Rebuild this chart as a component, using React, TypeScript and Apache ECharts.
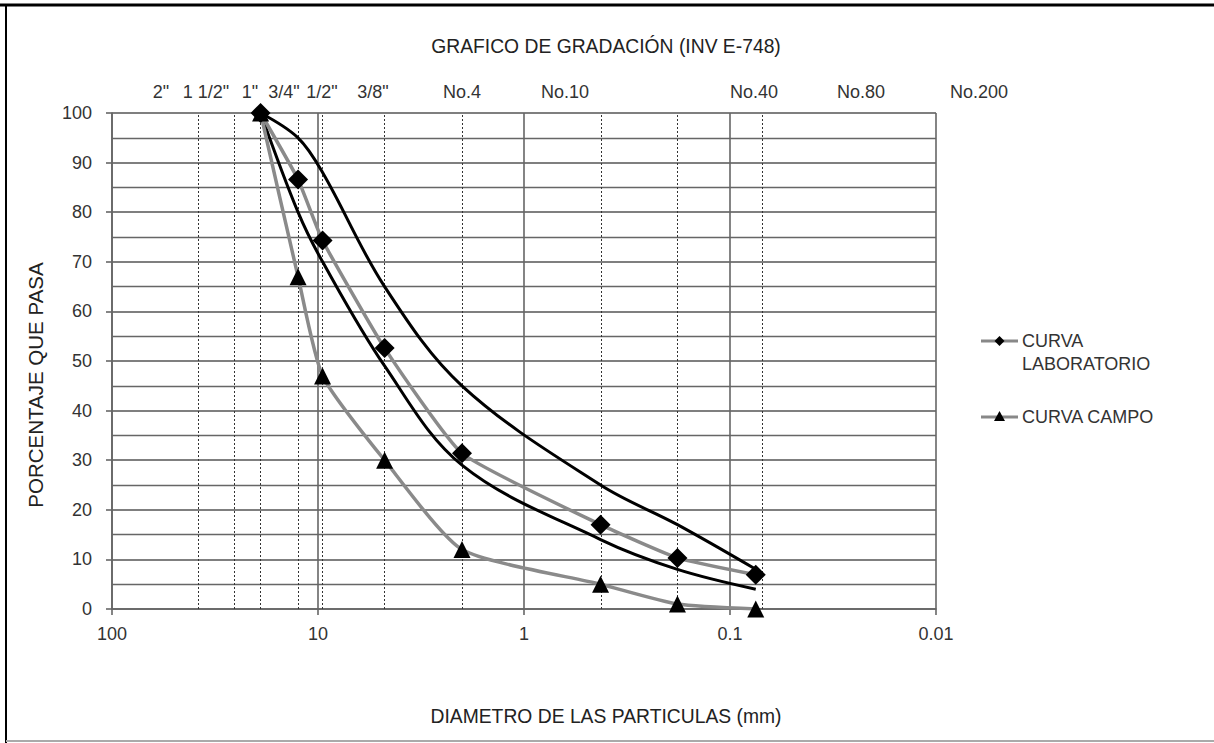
import React, { useEffect, useRef } from "react";
import * as echarts from "echarts";

// ---- data ----
const sieveSizes = [19.0, 12.5, 9.5, 4.75, 2.0, 0.425, 0.18, 0.075];
const labValues = [100, 86.6, 74.3, 52.6, 31.4, 17.0, 10.3, 6.9];
const campoValues = [100, 67, 47, 30, 12, 5, 1, 0];
const upperBand = [100, 95, 88, 65, 45, 25, 17, 8];
const lowerBand = [100, 80, 70, 49, 29, 14, 8, 4];
const dashedSieves = [38.1, 25.4, 19.0, 12.5, 9.5, 4.75, 2.0, 0.425, 0.18, 0.07];
const sieveLabels = ['2"', '1 1/2"', '1"', '3/4"', '1/2"', '3/8"', "No.4", "No.10", "No.40", "No.80", "No.200"];
const seriesNames = ["CURVA LABORATORIO", "CURVA CAMPO"];
const titleText = "GRAFICO DE GRADACIÓN (INV E-748)";
const xTitle = "DIAMETRO DE LAS PARTICULAS (mm)";
const yTitle = "PORCENTAJE QUE PASA";

// layout positions of top sieve labels (pixel centers)
const sieveLabelX = [161, 206, 250, 284, 322, 373, 462, 565, 754, 861, 979];

const FONT = "Liberation Sans";

export default function App() {
  const ref = useRef<HTMLDivElement>(null);
  useEffect(() => {
    if (!ref.current) return;
    const chart = echarts.init(ref.current, null, { renderer: "svg" });
    const pair = (vals: number[]) => sieveSizes.map((s, i) => [s, vals[i]]);
    const textColor = "#333";
    const graphics: any[] = [
      // frame
      { type: "line", shape: { x1: 0, y1: 5, x2: 1214, y2: 5 }, style: { stroke: "#000", lineWidth: 3 } },
      { type: "line", shape: { x1: 6, y1: 5, x2: 6, y2: 743 }, style: { stroke: "#000", lineWidth: 2 } },
      { type: "line", shape: { x1: 6, y1: 741, x2: 1214, y2: 741 }, style: { stroke: "#aaa", lineWidth: 2 } },
      {
        type: "text", x: 606, y: 46, scaleX: 0.92,
        style: { text: titleText, font: `21px "${FONT}"`, fill: "#222", textAlign: "center", textVerticalAlign: "middle" },
      },
      {
        type: "text", x: 606, y: 716, scaleX: 0.92,
        style: { text: xTitle, font: `21px "${FONT}"`, fill: "#222", textAlign: "center", textVerticalAlign: "middle" },
      },
      {
        type: "text", x: 35, y: 385, rotation: Math.PI / 2,
        style: { text: yTitle, font: `20.5px "${FONT}"`, fill: "#222", textAlign: "center", textVerticalAlign: "middle" },
      },
      ...sieveLabels.map((t, i) => ({
        type: "text", x: sieveLabelX[i], y: 92,
        style: { text: t, font: `18px "${FONT}"`, fill: textColor, textAlign: "center", textVerticalAlign: "middle" },
      })),
      // legend
      { type: "line", shape: { x1: 981, y1: 341, x2: 1018, y2: 341 }, style: { stroke: "#888", lineWidth: 3 } },
      { type: "polygon", shape: { points: [[999.5, 336], [1004.5, 341], [999.5, 346], [994.5, 341]] }, style: { fill: "#000" } },
      {
        type: "text", x: 1022, y: 341,
        style: { text: "CURVA", font: `18px "${FONT}"`, fill: textColor, textVerticalAlign: "middle" },
      },
      {
        type: "text", x: 1022, y: 364,
        style: { text: "LABORATORIO", font: `18px "${FONT}"`, fill: textColor, textVerticalAlign: "middle" },
      },
      { type: "line", shape: { x1: 981, y1: 417, x2: 1018, y2: 417 }, style: { stroke: "#888", lineWidth: 3 } },
      { type: "polygon", shape: { points: [[999.5, 411], [1005, 421], [994, 421]] }, style: { fill: "#000" } },
      {
        type: "text", x: 1022, y: 417,
        style: { text: seriesNames[1], font: `18px "${FONT}"`, fill: textColor, textVerticalAlign: "middle" },
      },
    ];

    chart.setOption({
      animation: false,
      backgroundColor: "#fff",
      grid: { left: 112, right: 278, top: 113, bottom: 134 },
      xAxis: {
        type: "log",
        logBase: 10,
        min: 0.01,
        max: 100,
        inverse: true,
        axisLine: { show: true, lineStyle: { color: "#666", width: 1.6 } },
        axisTick: { show: true, length: 6, lineStyle: { color: "#666", width: 1.6 } },
        axisLabel: {
          color: textColor, fontFamily: FONT, fontSize: 18, margin: 16,
          formatter: (v: number) => String(parseFloat(v.toPrecision(3))),
        },
        splitLine: { show: true, lineStyle: { color: "#666", width: 1.6 } },
      },
      yAxis: {
        type: "value",
        min: 0,
        max: 100,
        interval: 10,
        axisLine: { show: true, lineStyle: { color: "#666", width: 1.6 } },
        axisTick: { show: true, length: 6, lineStyle: { color: "#666", width: 1.6 } },
        axisLabel: { color: textColor, fontFamily: FONT, fontSize: 18, margin: 20 },
        splitLine: { show: true, lineStyle: { color: "#555", width: 1.6 } },
        minorTick: { show: false, splitNumber: 2 },
        minorSplitLine: { show: true, lineStyle: { color: "#666", width: 1.4 } },
      },
      graphic: graphics,
      series: [
        {
          name: "upper",
          type: "line",
          data: pair(upperBand),
          smooth: 0.35,
          symbol: "none",
          lineStyle: { color: "#000", width: 3 },
          z: 3,
          markLine: {
            silent: true,
            symbol: "none",
            label: { show: false },
            lineStyle: { type: [2, 2], color: "#333", width: 1 },
            data: dashedSieves.map((v) => ({ xAxis: v })),
            z: 1,
          },
        },
        {
          name: "lower",
          type: "line",
          data: pair(lowerBand),
          smooth: 0.35,
          symbol: "none",
          lineStyle: { color: "#000", width: 3 },
          z: 3,
        },
        {
          name: seriesNames[0],
          type: "line",
          data: pair(labValues),
          smooth: 0.15,
          symbol: "diamond",
          symbolSize: 20,
          itemStyle: { color: "#000" },
          lineStyle: { color: "#8a8a8a", width: 3.5 },
          z: 4,
        },
        {
          name: seriesNames[1],
          type: "line",
          data: pair(campoValues),
          smooth: 0.2,
          symbol: "triangle",
          symbolSize: 17,
          itemStyle: { color: "#000" },
          lineStyle: { color: "#8a8a8a", width: 3.5 },
          z: 4,
        },
      ],
    });
    return () => chart.dispose();
  }, []);
  return <div ref={ref} style={{ position: "fixed", left: 0, top: 0, width: 1214, height: 743, background: "#fff" }} />;
}
